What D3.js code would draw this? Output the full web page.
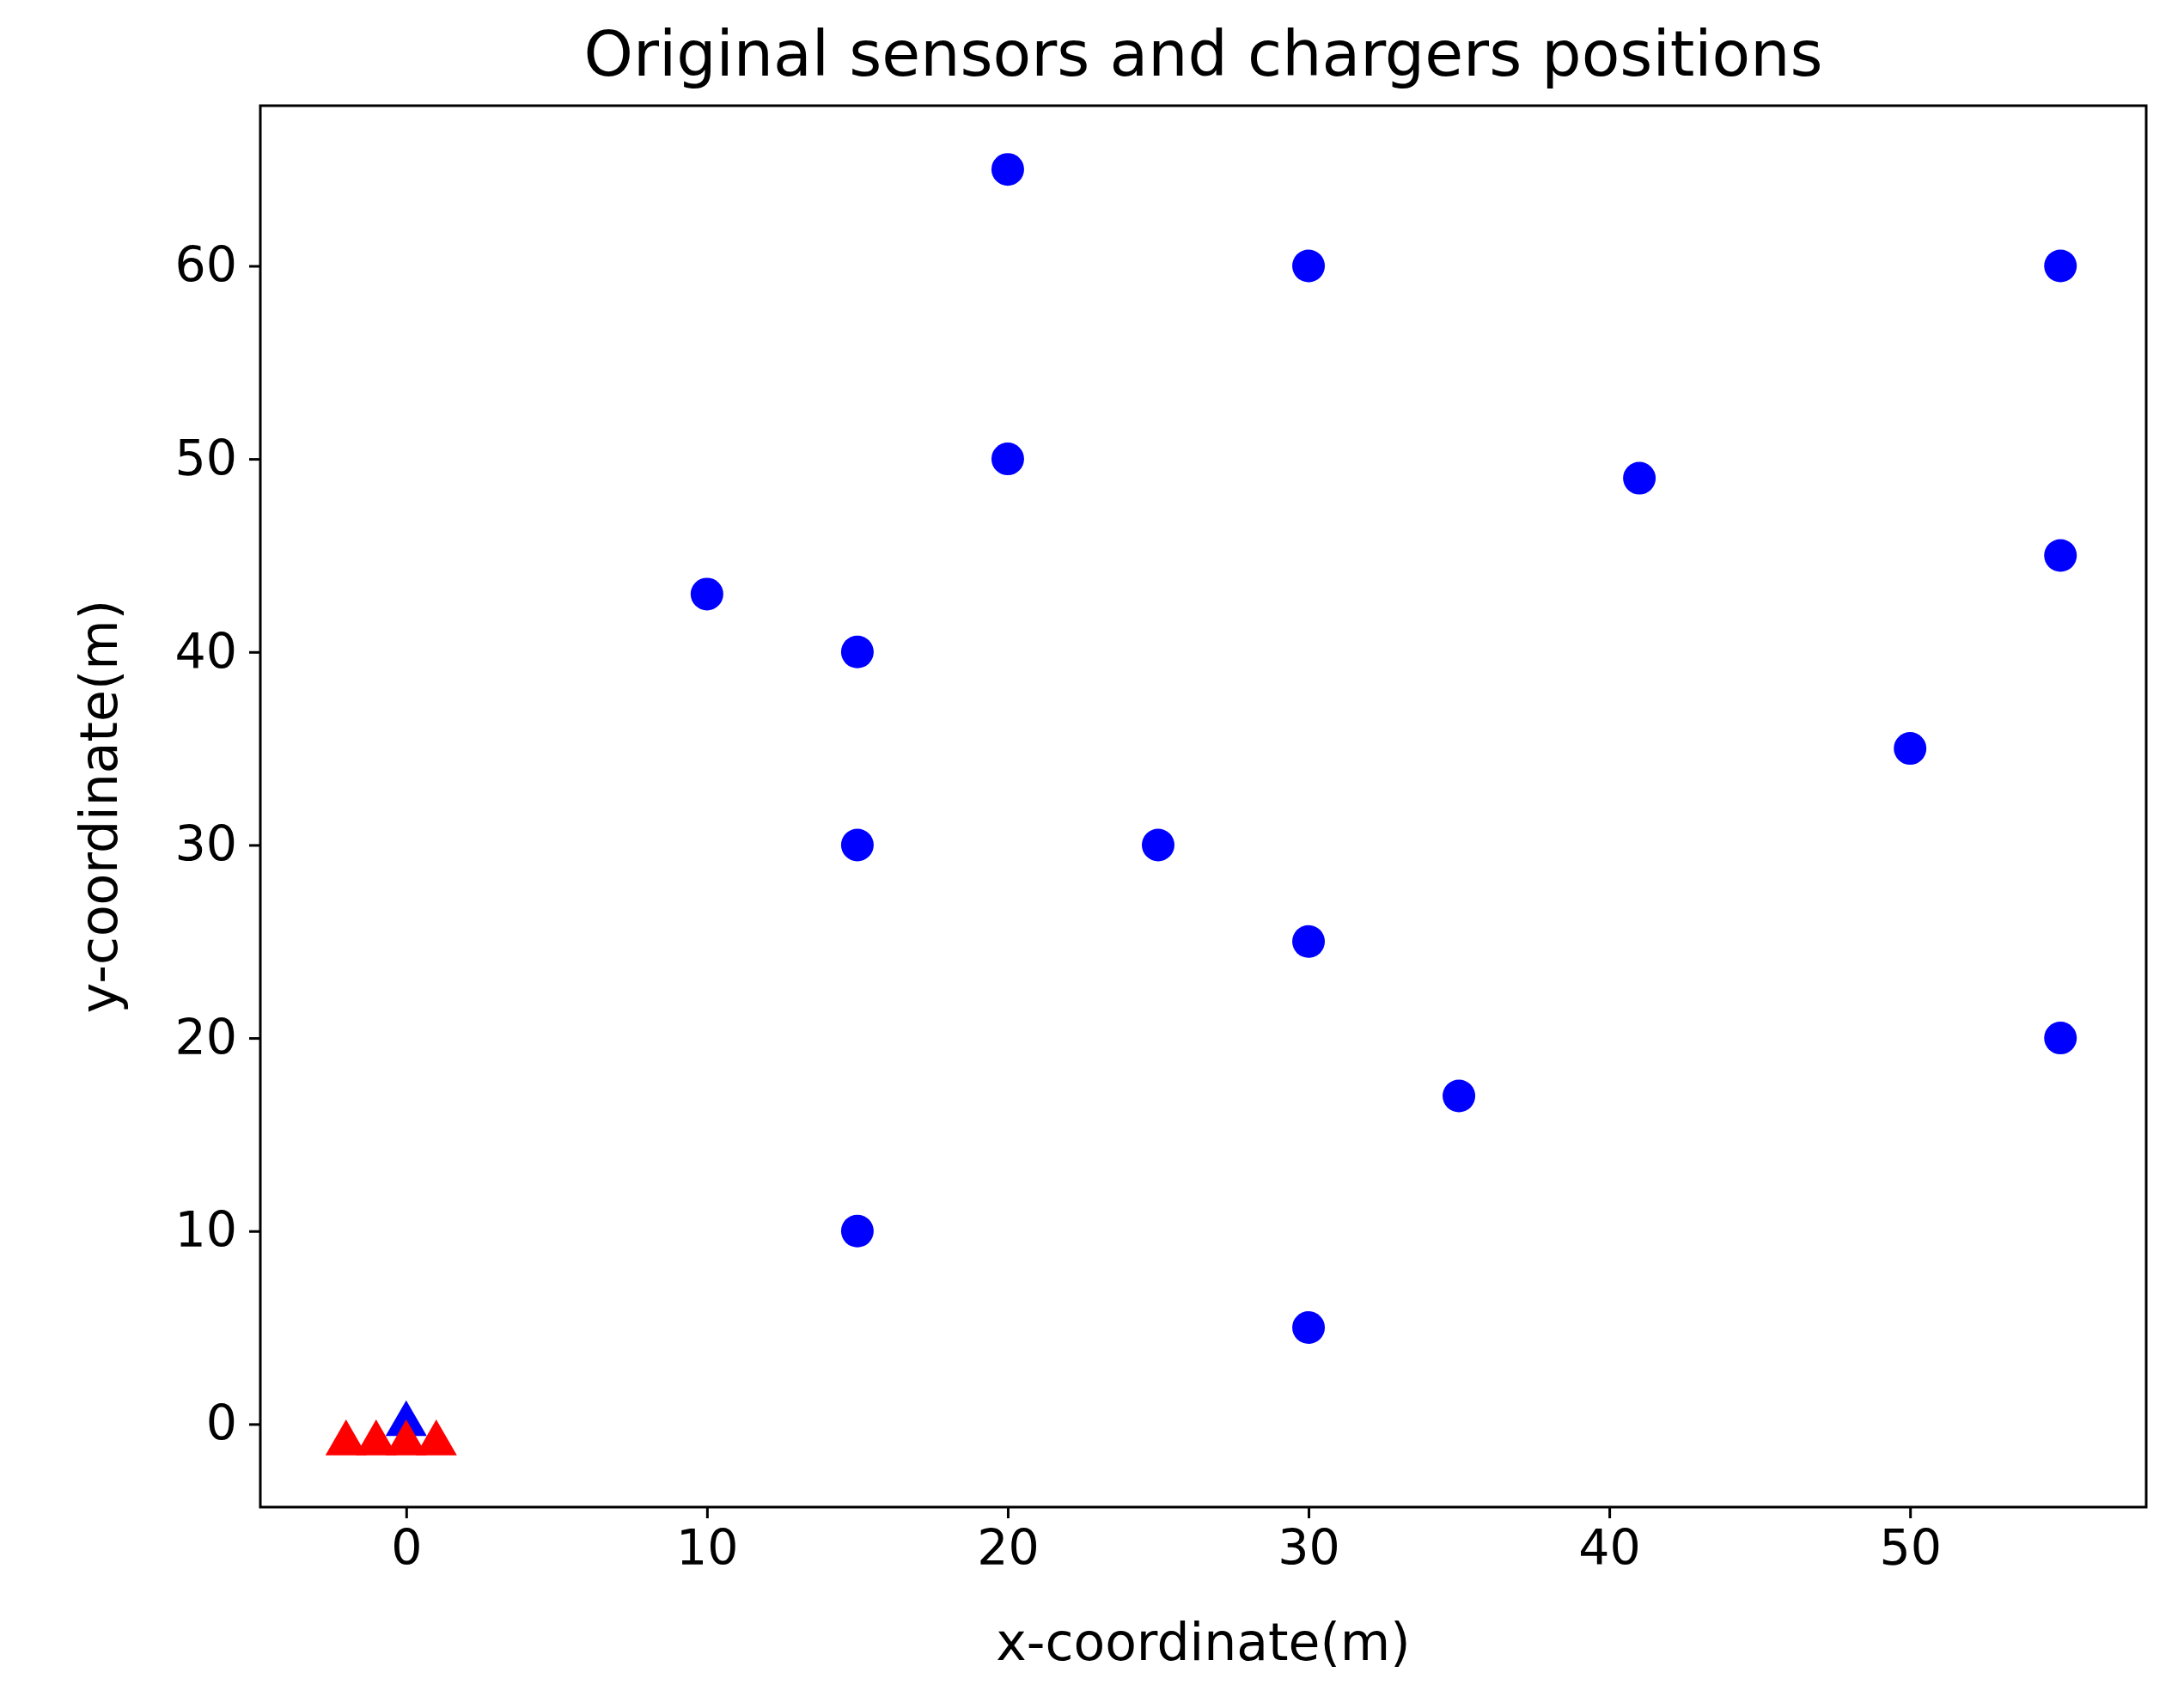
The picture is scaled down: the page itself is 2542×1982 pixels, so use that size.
<!DOCTYPE html>
<html><head><meta charset="utf-8">
<script src="https://cdn.jsdelivr.net/npm/d3@7"></script>
<style>body{margin:0;background:#fff}text{font-family:"DejaVu Sans",sans-serif}</style>
</head><body><svg id="chart" width="2542" height="1982"></svg>
<script>
// sensor positions
var sensorX = [20, 30, 55, 20, 41, 55, 10, 15, 50, 15, 25, 30, 55, 35, 15, 30];
var sensorY = [65, 60, 60, 50, 49, 45, 43, 40, 35, 30, 30, 25, 20, 17, 10, 5];
// chargers
var chargerX = [-2, -1, 0, 1];
var chargerY = [-1, -1, -1, -1];
// base station
var baseX = [0];
var baseY = [0];
var xTicks = [0, 10, 20, 30, 40, 50];
var yTicks = [0, 10, 20, 30, 40, 50, 60];

var svg = d3.select("#chart");
var L = 303, R = 2498, T = 123, B = 1754;
var x = d3.scaleLinear().domain([-4.85, 57.85]).range([L, R]);
var y = d3.scaleLinear().domain([-4.3, 68.3]).range([B, T]);

var xa = svg.append("g").attr("transform", "translate(0," + B + ")")
	.call(d3.axisBottom(x).tickValues(xTicks).tickSize(13).tickPadding(14).tickFormat(d3.format("d")));
var ya = svg.append("g").attr("transform", "translate(" + L + ",0)")
	.call(d3.axisLeft(y).tickValues(yTicks).tickSize(13).tickPadding(14).tickFormat(d3.format("d")));
[xa, ya].forEach(function(a){
	a.selectAll("text").attr("font-size", 57).attr("fill", "#000");
	a.selectAll("line").attr("stroke-width", 3);
	a.select(".domain").remove();
});
svg.append("rect").attr("x", L).attr("y", T).attr("width", R - L).attr("height", B - T)
	.attr("fill", "none").attr("stroke", "#000").attr("stroke-width", 3);

var tri = d3.symbol().type(d3.symbolTriangle).size(1000);
svg.selectAll(".base").data(baseX).enter().append("path")
	.attr("d", tri).attr("fill", "#0000ff")
	.attr("transform", function(d, i){ return "translate(" + x(d) + "," + y(baseY[i]) + ")"; });
svg.selectAll(".charger").data(chargerX).enter().append("path")
	.attr("d", tri).attr("fill", "#ff0000")
	.attr("transform", function(d, i){ return "translate(" + x(d) + "," + y(chargerY[i]) + ")"; });
svg.selectAll(".sensor").data(sensorX).enter().append("circle")
	.attr("cx", function(d){ return x(d); })
	.attr("cy", function(d, i){ return y(sensorY[i]); })
	.attr("r", 19).attr("fill", "#0000ff");

svg.append("text").attr("x", (L + R) / 2).attr("y", 88).attr("text-anchor", "middle")
	.attr("font-size", 73).text("Original sensors and chargers positions");
svg.append("text").attr("x", (L + R) / 2).attr("y", 1932).attr("text-anchor", "middle")
	.attr("font-size", 60).text("x-coordinate(m)");
svg.append("text").attr("transform", "translate(136," + (T + B) / 2 + ") rotate(-90)")
	.attr("text-anchor", "middle").attr("font-size", 60).text("y-coordinate(m)");
</script></body></html>
